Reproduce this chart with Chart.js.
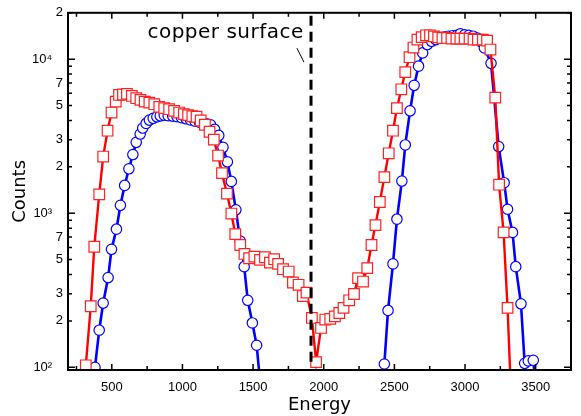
<!DOCTYPE html>
<html>
<head>
<meta charset="utf-8">
<title>Energy spectrum</title>
<script src="https://cdn.jsdelivr.net/npm/chart.js@4"></script>
<style>
  body { margin: 0; background: #fff; }
  #wrap { width: 581px; height: 416px; }
</style>
</head>
<body>
<div id="wrap"><canvas id="spectrum"></canvas></div>
<script>
// red squares
const redEnergy = [
  316, 351, 376, 411, 439, 470, 498, 528, 551, 579,
  607, 642, 673, 703, 733, 766, 801, 836, 871, 906,
  941, 977, 1010, 1040, 1070, 1100, 1129, 1159, 1192, 1222,
  1252, 1280, 1315, 1346, 1374, 1409, 1439, 1472, 1509, 1549,
  1584, 1619, 1649, 1677, 1712, 1752, 1782, 1822, 1852, 1878,
  1916, 1946, 1981, 2011, 2046, 2079, 2110, 2140, 2180, 2214,
  2243, 2278, 2308, 2338, 2366, 2397, 2429, 2460, 2490, 2518,
  2549, 2577, 2607, 2635, 2663, 2693, 2724, 2752, 2780, 2810,
  2840, 2873, 2904, 2939, 2967, 2997, 3032, 3060, 3091, 3126,
  3156, 3180, 3214, 3241, 3273, 3301, 3330
];
const redCounts = [
  103, 249, 606, 1326, 2332, 3432, 4503, 5302, 5858, 5900,
  5950, 5770, 5580, 5440, 5300, 5225, 5103, 4900, 4809, 4735,
  4618, 4503, 4400, 4330, 4260, 4230, 4000, 3753, 3381, 3003,
  2367, 1820, 1340, 995, 732, 622, 544, 510, 523, 498,
  518, 478, 503, 469, 433, 418, 355, 343, 290, 305,
  209, 108, 180, 204, 206, 214, 225, 243, 272, 299,
  379, 360, 440, 622, 837, 1183, 1715, 2449, 3432, 4809,
  6376, 8244, 10300, 11900, 13400, 13900, 14290, 14290, 14070, 13860,
  13730, 13730, 13600, 13600, 13600, 13600, 13600, 13400, 13400, 13400,
  13200, 11550, 5630, 1532, 751, 243, 53
];

// blue circles (null = gap, nothing above threshold)
const blueEnergy = [
  381, 411, 439, 474, 498, 533, 561, 591, 621, 649,
  673, 701, 719, 743, 766, 793, 819, 843, 871, 899,
  931, 962, 994, 1026, 1057, 1089, 1120, 1150, 1176, 1199,
  1228, 1257, 1287, 1318, 1346, 1378, 1409, 1437, 1462, 1495,
  1525, 1555, 2000,
  2429, 2455, 2490, 2518, 2553, 2577, 2611, 2640, 2671, 2700,
  2733, 2763, 2793, 2823, 2853, 2883, 2913, 2943, 2967, 2997,
  3027, 3057, 3087, 3112, 3137, 3184, 3238, 3277, 3301, 3336,
  3359, 3396, 3422, 3448, 3483, 3510
];
const blueCounts = [
  100, 174, 261, 382, 583, 788, 1126, 1516, 1942, 2403,
  2884, 3266, 3573, 3828, 4023, 4130, 4225, 4287, 4330, 4300,
  4270, 4230, 4170, 4100, 4030, 3960, 3900, 3840, 3790, 3750,
  3500, 3200, 2678, 2155, 1609, 1052, 659, 450, 272, 194,
  139, 72, null,
  105, 234, 469, 915, 1617, 2775, 4618, 6761, 9012, 10980,
  12440, 13060, 13400, 13700, 13900, 14100, 14200, 14300, 14600, 14400,
  14300, 14100, 13700, 13000, 11830, 9400, 2707, 1578, 1061, 751,
  450, 258, 106, 110, 111, 60
];

const xTickValues = [250, 500, 750, 1000, 1250, 1500, 1750, 2000, 2250, 2500, 2750, 3000, 3250, 3500, 3750];
const xTickLabels = ['', '500', '', '1000', '', '1500', '', '2000', '', '2500', '', '3000', '', '3500', ''];
const yTickValues = [100, 200, 300, 400, 500, 600, 700, 800, 900,
  1000, 2000, 3000, 4000, 5000, 6000, 7000, 8000, 9000, 10000, 20000];
const yTickLabels = ['10\u00b2   ', '2', '3', '', '5', '', '7', '', '',
  '10\u00b3   ', '2', '3', '', '5', '', '7', '', '', '10\u2074   ', '2'];

const surfaceEnergy = 1910;
const surfaceText = 'copper surface';
const surfaceTextAt = [752, 13700];
const surfacePointer = [[1810, 11800], [1860, 9560]];

function toPoints(xs, ys) {
  return xs.map((x, i) => ({ x: x, y: ys[i] }));
}

// frame, inward ticks, surface marker and its label
const framePlugin = {
  id: 'frame',
  afterDatasetsDraw(chart) {
    const { ctx, chartArea: a, scales: { x, y } } = chart;
    ctx.save();
    ctx.strokeStyle = '#000';

    const sx = x.getPixelForValue(surfaceEnergy);
    ctx.lineWidth = 3;
    ctx.setLineDash([10, 6]);
    ctx.beginPath();
    ctx.moveTo(sx, a.top + 3);
    ctx.lineTo(sx, a.bottom - 3);
    ctx.stroke();
    ctx.setLineDash([]);

    ctx.lineWidth = 1;
    ctx.beginPath();
    ctx.moveTo(x.getPixelForValue(surfacePointer[0][0]), y.getPixelForValue(surfacePointer[0][1]));
    ctx.lineTo(x.getPixelForValue(surfacePointer[1][0]), y.getPixelForValue(surfacePointer[1][1]));
    ctx.stroke();

    ctx.fillStyle = '#000';
    ctx.font = '20px "DejaVu Sans"';
    ctx.letterSpacing = '0.5px';
    ctx.textAlign = 'left';
    ctx.textBaseline = 'alphabetic';
    ctx.fillText(surfaceText, x.getPixelForValue(surfaceTextAt[0]), y.getPixelForValue(surfaceTextAt[1]));
    ctx.letterSpacing = '0px';

    ctx.lineWidth = 1.5;
    ctx.beginPath();
    xTickValues.forEach((v, i) => {
      const px = x.getPixelForValue(v);
      const len = xTickLabels[i] ? 6 : 4;
      ctx.moveTo(px, a.bottom); ctx.lineTo(px, a.bottom - len);
      ctx.moveTo(px, a.top); ctx.lineTo(px, a.top + len);
    });
    yTickValues.forEach(v => {
      const py = y.getPixelForValue(v);
      const len = Number.isInteger(Math.log10(v)) ? 7 : 4;
      ctx.moveTo(a.left, py); ctx.lineTo(a.left + len, py);
      ctx.moveTo(a.right, py); ctx.lineTo(a.right - len, py);
    });
    ctx.stroke();

    ctx.lineWidth = 2;
    ctx.strokeRect(a.left, a.top, a.right - a.left, a.bottom - a.top);
    ctx.restore();
  }
};

new Chart(document.getElementById('spectrum'), {
  type: 'scatter',
  data: {
    datasets: [
      {
        data: toPoints(redEnergy, redCounts),
        showLine: true,
        borderColor: '#ff0000',
        borderWidth: 2.4,
        pointStyle: 'rect',
        pointRadius: 7.5,
        pointBorderWidth: 1.2,
        pointBorderColor: '#ff2020',
        pointBackgroundColor: '#ffffff'
      },
      {
        data: toPoints(blueEnergy, blueCounts),
        showLine: true,
        spanGaps: false,
        borderColor: '#0000ff',
        borderWidth: 2.6,
        pointStyle: 'circle',
        pointRadius: 5.2,
        pointBorderWidth: 1.2,
        pointBorderColor: '#0000ff',
        pointBackgroundColor: '#ffffff'
      }
    ]
  },
  options: {
    responsive: true,
    maintainAspectRatio: false,
    animation: false,
    layout: { padding: { top: 12, right: 4, left: 0, bottom: 0 } },
    plugins: { legend: { display: false }, tooltip: { enabled: false } },
    scales: {
      x: {
        type: 'linear',
        min: 190,
        max: 3750,
        grid: { display: false, drawTicks: false },
        border: { display: false },
        afterBuildTicks: s => { s.ticks = xTickValues.map(v => ({ value: v })); },
        afterFit: s => { s.height = 46; },
        ticks: {
          autoSkip: false,
          maxRotation: 0,
          padding: 10,
          color: '#000',
          font: { family: '"Liberation Sans"', size: 13 },
          callback: (v, i) => xTickLabels[i]
        },
        title: {
          display: true,
          text: 'Energy',
          color: '#000',
          font: { family: '"DejaVu Sans"', size: 18 },
          padding: { top: -4, bottom: 0 }
        }
      },
      y: {
        type: 'logarithmic',
        min: 96,
        max: 20000,
        grid: { display: false, drawTicks: false },
        border: { display: false },
        afterBuildTicks: s => { s.ticks = yTickValues.map(v => ({ value: v })); },
        afterFit: s => { s.width = 68; },
        ticks: {
          autoSkip: false,
          padding: 5,
          color: '#000',
          font: { family: '"Liberation Sans"', size: 13 },
          callback: (v, i) => yTickLabels[i]
        },
        title: {
          display: true,
          text: 'Counts',
          color: '#000',
          font: { family: '"DejaVu Sans"', size: 18 },
          padding: { top: 10, bottom: 0 }
        }
      }
    }
  },
  plugins: [framePlugin]
});
</script>
</body>
</html>
